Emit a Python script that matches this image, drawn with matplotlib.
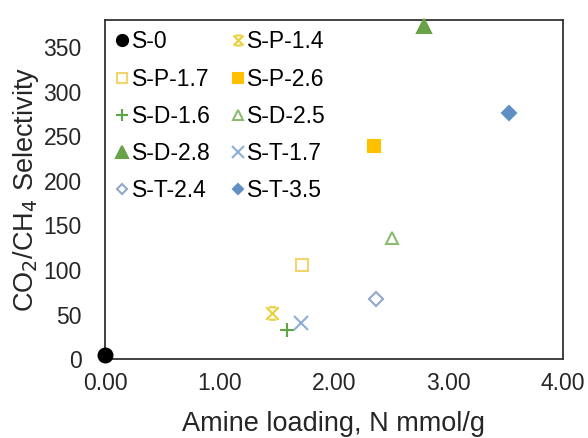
import numpy as np
import matplotlib
matplotlib.use('Agg')
from matplotlib import pyplot as plt
from matplotlib.path import Path

plt.rcParams['font.family'] = ['Liberation Sans', 'DejaVu Sans']

# sample names, amine loading (N mmol/g) and CO2/CH4 selectivity
samples = ['S-0', 'S-P-1.4', 'S-P-1.7', 'S-P-2.6', 'S-D-1.6',
           'S-D-2.5', 'S-D-2.8', 'S-T-1.7', 'S-T-2.4', 'S-T-3.5']
loading = [0.00, 1.46, 1.72, 2.35, 1.59, 2.51, 2.79, 1.71, 2.37, 3.53]
selectivity = [5, 52, 105, 239, 33, 136, 374, 40, 67, 276]

# x with caps, like the spreadsheet "star" marker
hourglass = Path([(-1, -1), (1, 1), (-1, 1), (1, -1),
                  (-0.6, 1), (0.6, 1), (-0.6, -1), (0.6, -1)],
                 [Path.MOVETO, Path.LINETO, Path.MOVETO, Path.LINETO,
                  Path.MOVETO, Path.LINETO, Path.MOVETO, Path.LINETO])

styles = {
    'S-0':     dict(marker='o', color='black', fill=True, ms=10),
    'S-P-1.4': dict(marker=hourglass, color='#E8CF3A', fill=False, ms=9),
    'S-P-1.7': dict(marker='s', color='#F2D46A', fill=False, ms=9),
    'S-P-2.6': dict(marker='s', color='#FFC000', fill=True, ms=9),
    'S-D-1.6': dict(marker='+', color='#5FA744', fill=False, ms=10),
    'S-D-2.5': dict(marker='^', color='#8DBB73', fill=False, ms=9),
    'S-D-2.8': dict(marker='^', color='#6AA24A', fill=True, ms=10),
    'S-T-1.7': dict(marker='x', color='#8FAFD8', fill=False, ms=10),
    'S-T-2.4': dict(marker='D', color='#8FA8CC', fill=False, ms=7),
    'S-T-3.5': dict(marker='D', color='#5F8FC4', fill=True, ms=7),
}

fig = plt.figure(figsize=(5.88, 4.38), dpi=100)
ax = fig.add_axes([0.179, 0.180, 0.778, 0.774])

handles = {}
for name, x, y in zip(samples, loading, selectivity):
    st = styles[name]
    h, = ax.plot([x], [y], linestyle='none', marker=st['marker'], ms=st['ms'],
                 color=st['color'], markerfacecolor=st['color'] if st['fill'] else 'none',
                 markeredgewidth=1.5, label=name, clip_on=False, zorder=3)
    handles[name] = h

ax.set_xlim(0, 4)
ax.set_ylim(0, 380)
ax.set_xticks([0, 1, 2, 3, 4])
ax.set_xticklabels(['0.00', '1.00', '2.00', '3.00', '4.00'])
ax.set_yticks(np.arange(0, 351, 50))
ax.tick_params(length=0, labelsize=16.5, labelcolor='#262626')
ax.tick_params(axis='y', pad=17)
ax.tick_params(axis='x', pad=9)
for s in ax.spines.values():
    s.set_color('#333333')
    s.set_linewidth(1.3)

ax.set_xlabel('Amine loading, N mmol/g', fontsize=19.5, color='#262626', labelpad=12)
ax.set_ylabel('CO$_2$/CH$_4$ Selectivity', fontsize=19.5, color='#262626', labelpad=2)

# legend read row by row: reorder since matplotlib fills columns first
order = samples[0::2] + samples[1::2]
ax.legend([handles[n] for n in order], order, ncol=2, loc='upper left',
          frameon=False, fontsize=16.5, markerscale=0.8,
          handlelength=0.6, handletextpad=0.1, columnspacing=0.9,
          labelspacing=0.62, borderaxespad=0.15, borderpad=0.3)

fig.savefig('out.png', dpi=100)
